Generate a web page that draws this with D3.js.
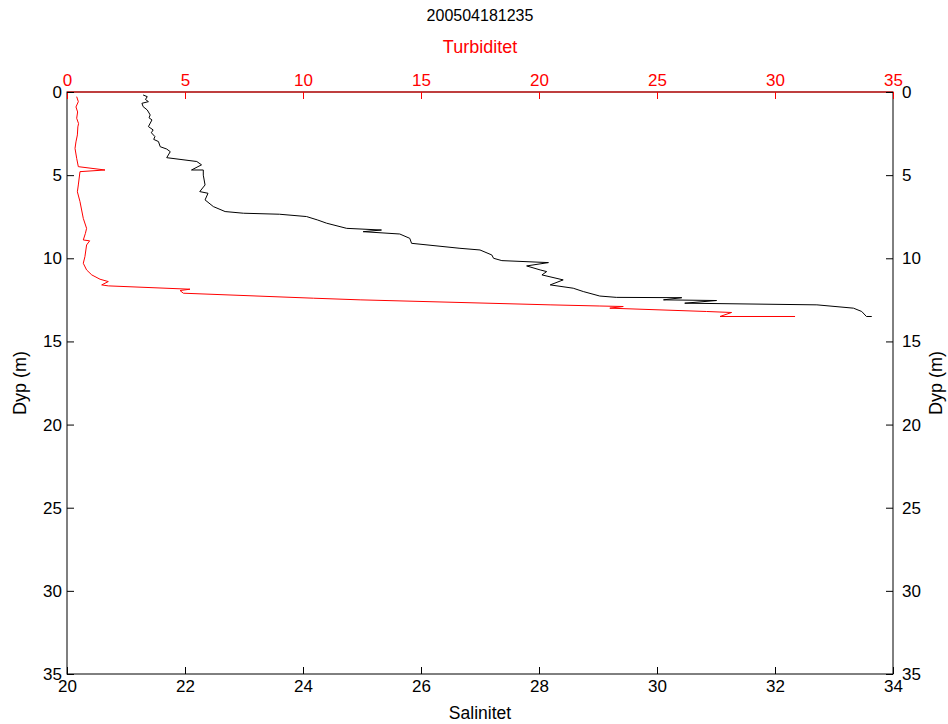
<!DOCTYPE html>
<html><head><meta charset="utf-8">
<script src="https://cdn.jsdelivr.net/npm/d3@7"></script>
<style>body{margin:0;background:#fff}svg{font-family:"Liberation Sans",Arial,sans-serif}</style>
</head><body><svg id="c" width="948" height="724"></svg>
<script>
const title = "200504181235";
const salTicks = [20,22,24,26,28,30,32,34];
const turbTicks = [0,5,10,15,20,25,30,35];
const depthTicks = [0,5,10,15,20,25,30,35];
// salinity profile: [salinity, depth]
const salinity = [
[21.29,0.18],[21.36,0.28],[21.33,0.45],[21.38,0.58],[21.27,0.68],[21.29,0.88],[21.36,1.08],[21.41,1.38],[21.39,1.55],[21.44,1.68],
[21.38,2.08],[21.46,2.28],[21.43,2.45],[21.49,2.68],[21.47,2.85],[21.55,2.98],[21.58,3.29],[21.69,3.43],[21.75,3.59],[21.69,3.95],
[22.20,4.18],[22.28,4.38],[22.11,4.69],[22.31,4.69],[22.31,5.0],[22.34,5.59],[22.25,5.99],[22.39,6.09],
[22.34,6.49],[22.48,6.89],[22.68,7.19],[22.99,7.29],[23.6,7.35],[24.06,7.49],[24.25,7.7],[24.40,7.89],
[24.74,8.2],[25.33,8.3],[25.02,8.4],[25.64,8.54],[25.81,8.8],[25.84,9.1],[26.66,9.4],[27.0,9.5],
[27.2,9.8],[27.23,10.0],[27.37,10.14],[28.16,10.26],[27.79,10.46],[28.02,10.7],[28.13,10.8],[28.05,11.0],
[28.41,11.3],[28.19,11.6],[28.58,11.8],[28.75,12.0],[29.03,12.27],[29.31,12.35],[30.42,12.37],[30.11,12.5],
[31.01,12.54],[30.47,12.7],[32.71,12.8],[33.33,13.0],[33.47,13.2],[33.55,13.5],[33.64,13.5]
];
// turbidity profile: [turbidity, depth]
const turbidity = [
[0.41,0.28],[0.48,0.58],[0.38,0.9],[0.45,1.2],[0.41,1.58],[0.49,1.9],[0.46,2.1],[0.44,2.58],[0.38,3.0],[0.34,3.39],[0.41,3.99],[0.48,4.49],
[1.61,4.69],[0.55,4.79],[0.48,5.59],[0.44,6.0],[0.55,6.59],[0.69,7.6],[0.83,8.2],[0.78,8.5],[0.69,8.9],[0.96,8.95],[0.83,9.2],[0.76,9.9],
[0.69,10.3],[0.83,10.7],[1.05,11.0],[1.40,11.26],[1.75,11.4],[1.47,11.6],[1.75,11.66],[5.21,11.86],
[4.79,11.94],[4.93,12.1],[10.44,12.4],[12.42,12.5],[20.47,12.8],[22.58,12.87],[23.57,12.9],[23.0,13.0],
[27.1,13.2],[28.16,13.26],[27.67,13.5],[30.85,13.5]
];

const svg = d3.select("#c");
const L=67,R=893,T=92,B=674;
const x = d3.scaleLinear().domain([20,34]).range([L,R]);
const xt = d3.scaleLinear().domain([0,35]).range([L,R]);
const y = d3.scaleLinear().domain([0,35]).range([T,B]);
const fs = "17px";

function styleAxis(g,color){
  g.select(".domain").remove();
  g.selectAll("line").attr("stroke",color);
  g.selectAll("text").attr("fill",color).style("font-size",fs);
}
// frame
svg.append("rect").attr("x",L).attr("y",T).attr("width",R-L).attr("height",B-T).attr("fill","none").attr("stroke","#000");
svg.append("line").attr("x1",L).attr("x2",R).attr("y1",T).attr("y2",T).attr("stroke","#f00");

svg.append("g").attr("transform",`translate(0,${B})`)
  .call(d3.axisBottom(x).tickValues(salTicks).tickSizeInner(-7).tickSizeOuter(0).tickPadding(6).tickFormat(d3.format("d")))
  .call(g=>styleAxis(g,"#000"));
svg.append("g").attr("transform",`translate(0,${T})`)
  .call(d3.axisTop(xt).tickValues(turbTicks).tickSizeInner(-7).tickSizeOuter(0).tickPadding(6).tickFormat(d3.format("d")))
  .call(g=>styleAxis(g,"#f00"));
svg.append("g").attr("transform",`translate(${L},0)`)
  .call(d3.axisLeft(y).tickValues(depthTicks).tickSizeInner(-7).tickSizeOuter(0).tickPadding(5).tickFormat(d3.format("d")))
  .call(g=>styleAxis(g,"#000"));
svg.append("g").attr("transform",`translate(${R},0)`)
  .call(d3.axisRight(y).tickValues(depthTicks).tickSizeInner(-7).tickSizeOuter(0).tickPadding(9).tickFormat(d3.format("d")))
  .call(g=>styleAxis(g,"#000"));

const lineS = d3.line().x(d=>x(d[0])).y(d=>y(d[1]));
const lineT = d3.line().x(d=>xt(d[0])).y(d=>y(d[1]));
svg.append("path").datum(turbidity).attr("d",lineT).attr("fill","none").attr("stroke","#f00").attr("stroke-width",1);
svg.append("path").datum(salinity).attr("d",lineS).attr("fill","none").attr("stroke","#000").attr("stroke-width",1);

svg.append("text").attr("x",(L+R)/2).attr("y",21).attr("text-anchor","middle").style("font-size","16px").text(title);
svg.append("text").attr("x",(L+R)/2).attr("y",53).attr("text-anchor","middle").attr("fill","#f00").style("font-size","18px").text("Turbiditet");
svg.append("text").attr("x",(L+R)/2).attr("y",719).attr("text-anchor","middle").style("font-size","17.5px").text("Salinitet");
svg.append("text").attr("transform",`translate(26,${(T+B)/2}) rotate(-90)`).attr("text-anchor","middle").style("font-size","18px").text("Dyp (m)");
svg.append("text").attr("transform",`translate(942,${(T+B)/2}) rotate(-90)`).attr("text-anchor","middle").style("font-size","18px").text("Dyp (m)");
</script></body></html>
